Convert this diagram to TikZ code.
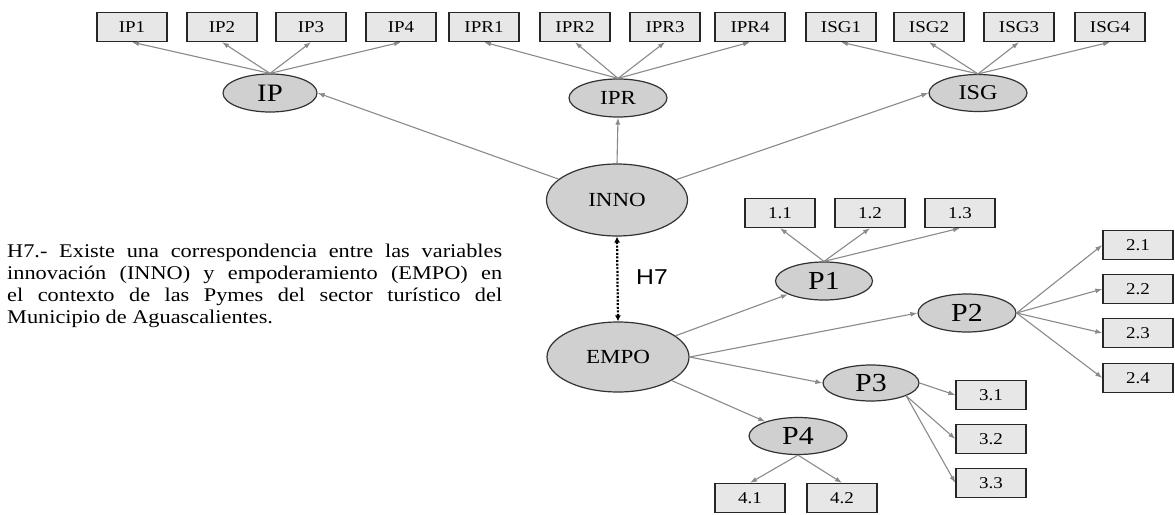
\documentclass[tikz,border=0pt]{standalone}
\usepackage{fontspec}
\setmainfont[FakeStretch=1.15]{Liberation Serif}
\newfontfamily\hsans[FakeStretch=1.15]{Liberation Sans}
\usetikzlibrary{shapes.geometric,arrows.meta}
\definecolor{latfill}{RGB}{208,208,208}
\definecolor{latline}{RGB}{50,50,50}
\definecolor{indfill}{RGB}{231,231,231}
\definecolor{pathgray}{RGB}{138,138,138}
\newcommand{\setfs}[1]{\fontsize{#1}{#1}\selectfont}

\begin{document}
\begin{tikzpicture}[x=1pt,y=-1pt,
  latent/.style={ellipse, draw=latline, fill=latfill, line width=1.2pt, inner sep=0pt},
  ind/.style={rectangle, draw=black!85, fill=indfill, line width=1.3pt,
    minimum width=70pt, minimum height=29pt, inner sep=0pt, font=\setfs{16.5}},
  load/.style={draw=pathgray, line width=1.1pt, -{Latex[length=7pt,width=5pt]}},
  corr/.style={draw=black, line width=2.2pt, dash pattern=on 2pt off 1.6pt,
    {Latex[length=6pt,width=6pt]}-{Latex[length=6pt,width=6pt]}},
]
\fill[white] (0,0) rectangle (1175,514);
\useasboundingbox (0,0) rectangle (1175,514);

% innovation dimensions and their indicators
\node[ind] (ip1) at (132,27) {IP1};
\node[ind] (ip2) at (222,27) {IP2};
\node[ind] (ip3) at (311,27) {IP3};
\node[ind] (ip4) at (401,27) {IP4};
\node[ind] (ipr1) at (484,27) {IPR1};
\node[ind] (ipr2) at (575,27) {IPR2};
\node[ind] (ipr3) at (665,27) {IPR3};
\node[ind] (ipr4) at (750,27) {IPR4};
\node[ind] (isg1) at (841,27) {ISG1};
\node[ind] (isg2) at (929,27) {ISG2};
\node[ind] (isg3) at (1019,27) {ISG3};
\node[ind] (isg4) at (1110,27) {ISG4};

\node[latent, minimum width=94pt, minimum height=38pt, font=\setfs{25}] (ip) at (270,93) {IP};
\node[latent, minimum width=98pt, minimum height=38pt, font=\setfs{20}] (ipr) at (618,98) {IPR};
\node[latent, minimum width=98pt, minimum height=37pt, font=\setfs{21}] (isg) at (978,93) {ISG};

\node[latent, minimum width=141pt, minimum height=72pt, font=\setfs{20}] (inno) at (617,200) {INNO};
\node[latent, minimum width=142pt, minimum height=70pt, font=\setfs{20}] (empo) at (618,357) {EMPO};

% empowerment dimensions and their indicators
\node[latent, minimum width=97pt, minimum height=38pt, font=\setfs{26}] (p1) at (824,281) {P1};
\node[latent, minimum width=98pt, minimum height=38pt, font=\setfs{26}] (p2) at (967,313) {P2};
\node[latent, minimum width=96pt, minimum height=36pt, font=\setfs{26}] (p3) at (871,383) {P3};
\node[latent, minimum width=98pt, minimum height=37pt, font=\setfs{26}] (p4) at (798,436) {P4};

\node[ind] (i11) at (780,213) {1.1};
\node[ind] (i12) at (870,213) {1.2};
\node[ind] (i13) at (960,213) {1.3};
\node[ind] (i21) at (1138,245) {2.1};
\node[ind] (i22) at (1138,289) {2.2};
\node[ind] (i23) at (1138,333) {2.3};
\node[ind] (i24) at (1138,378) {2.4};
\node[ind] (i31) at (991,395) {3.1};
\node[ind] (i32) at (991,439) {3.2};
\node[ind] (i33) at (991,483) {3.3};
\node[ind] (i41) at (750,498) {4.1};
\node[ind] (i42) at (842,498) {4.2};

% structural paths
\draw[load] (inno) -- (ip.east);
\draw[load] (inno.north) -- (ipr.south);
\draw[load] (inno) -- (isg.west);
\draw[load] (empo) -- (p1);
\draw[load] (empo.east) -- (p2.west);
\draw[load] (empo.east) -- (p3.west);
\draw[load] (empo) -- (p4);

% measurement paths
\foreach \k in {ip1,ip2,ip3,ip4} \draw[load] (ip.north) -- (\k.south);
\foreach \k in {ipr1,ipr2,ipr3,ipr4} \draw[load] (ipr.north) -- (\k.south);
\foreach \k in {isg1,isg2,isg3,isg4} \draw[load] (isg.north) -- (\k.south);
\foreach \k in {i11,i12,i13} \draw[load] (p1.north) -- (\k.south);
\foreach \k in {i21,i22,i23,i24} \draw[load] (p2.east) -- (\k.west);
\draw[load] (p3.east) -- (i31.west);
\draw[load] (p3.-20) -- (i32.west);
\draw[load] (p3.-20) -- (i33.west);
\draw[load] (p4.south) -- (i41.north);
\draw[load] (p4.south) -- (i42.north);

% hypothesis H7
\draw[corr] (inno.south) -- (empo.north);
\node[font=\hsans\setfs{21.5}] (h7) at (652,277) {H7};

\node[anchor=north west, inner sep=0pt, text width=495pt, align=justify,
  font=\fontsize{19.4}{22}\selectfont] (hyp) at (7,243.5)
  {\tolerance=10000\hbadness=10000
   H7.- Existe una correspondencia entre las variables\linebreak
   innovación (INNO) y empoderamiento (EMPO) en\linebreak
   el contexto de las Pymes del sector turístico del\linebreak
   Municipio de Aguascalientes.};
\end{tikzpicture}
\end{document}
